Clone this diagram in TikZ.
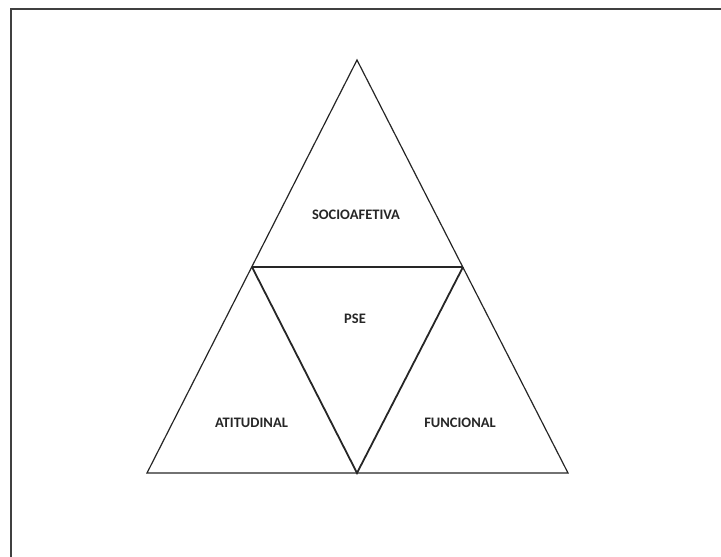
\documentclass[tikz,border=0pt]{standalone}
\usepackage{fontspec}
\setmainfont{Carlito}
\begin{document}
\begin{tikzpicture}[x=1pt,y=-1pt,
  lbl/.style={font=\bfseries\fontsize{14.5}{16}\selectfont, inner sep=0pt, text=black!85},
  outer/.style={draw=black!85, line width=1.2pt, line join=miter},
  inner/.style={draw=black!85, line width=1.8pt, line join=miter}]
\useasboundingbox (0,0) rectangle (721,557);
\draw[draw=black!75, line width=2pt] (10.5,557) -- (10.5,8.5) -- (721,8.5);
\coordinate (apex) at (357,60);
\coordinate (ml) at (252,267);
\coordinate (mr) at (463,267);
\coordinate (bl) at (147,473);
\coordinate (bm) at (357,473);
\coordinate (br) at (568,473);
\draw[outer] (apex) -- (bl) -- (br) -- cycle;
\draw[outer] (ml) -- (mr);
\draw[inner] (ml) -- (bm) -- (mr);
\node[lbl] (s) at (356,215) {SOCIOAFETIVA};
\node[lbl] (p) at (355,318.5) {PSE};
\node[lbl] (a) at (251.5,422.5) {ATITUDINAL};
\node[lbl] (f) at (460,422.5) {FUNCIONAL};
\end{tikzpicture}
\end{document}
